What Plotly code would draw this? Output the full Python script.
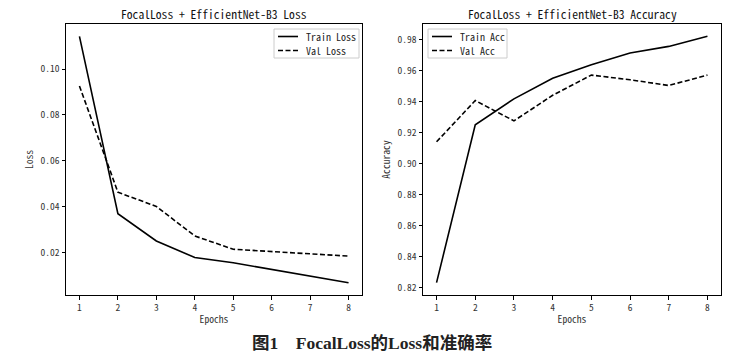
import plotly.graph_objects as go

epochs = [1, 2, 3, 4, 5, 6, 7, 8]
train_loss = [0.1143, 0.0368, 0.0249, 0.0177, 0.0154, 0.0126, 0.0096, 0.0067]
val_loss = [0.0926, 0.0462, 0.0400, 0.0271, 0.0213, 0.0203, 0.0193, 0.0183]
train_acc = [0.8232, 0.9250, 0.9417, 0.9550, 0.9637, 0.9712, 0.9755, 0.9820]
val_acc = [0.9140, 0.9406, 0.9275, 0.9440, 0.9570, 0.9540, 0.9503, 0.9570]

loss_ticks = [0.02, 0.04, 0.06, 0.08, 0.10]
acc_ticks = [0.82, 0.84, 0.86, 0.88, 0.90, 0.92, 0.94, 0.96, 0.98]

mono = "Noto Sans Mono CJK SC, DejaVu Sans Mono"
W, H = 741, 355
L, R, T, B = 66, 20, 24, 60
PW, PH = W - L - R, H - T - B

def px(x):
    return (x - L) / PW

def py(y):
    return 1 - (y - T) / PH

DASH = "5px,2.5px"

fig = go.Figure()
fig.add_trace(go.Scatter(x=epochs, y=train_loss, mode="lines", name="Train Loss",
                         line=dict(color="black", width=1.6), xaxis="x", yaxis="y", showlegend=False))
fig.add_trace(go.Scatter(x=epochs, y=val_loss, mode="lines", name="Val Loss",
                         line=dict(color="black", width=1.6, dash=DASH), xaxis="x", yaxis="y", showlegend=False))
fig.add_trace(go.Scatter(x=epochs, y=train_acc, mode="lines", name="Train Acc",
                         line=dict(color="black", width=1.6), xaxis="x2", yaxis="y2", showlegend=False))
fig.add_trace(go.Scatter(x=epochs, y=val_acc, mode="lines", name="Val Acc",
                         line=dict(color="black", width=1.6, dash=DASH), xaxis="x2", yaxis="y2", showlegend=False))

def pad(vals):
    lo, hi = min(vals), max(vals)
    m = (hi - lo) * 0.05
    return [lo - m, hi + m]

axis_common = dict(showline=True, linecolor="black", linewidth=1, mirror=True,
                   ticks="outside", ticklen=3.5, tickcolor="black", showgrid=False,
                   zeroline=False, automargin=False,
                   tickfont=dict(family=mono, size=9.5, color="#333"))
title_font = dict(family=mono, size=9.6, color="#333")

fig.update_layout(
    width=W, height=H, margin=dict(l=L, r=R, t=T, b=B),
    plot_bgcolor="white", paper_bgcolor="white", showlegend=False,
    xaxis=dict(domain=[0, px(362)], range=pad(epochs), tickvals=epochs, anchor="y",
               title=dict(text="Epochs", font=title_font, standoff=3), **axis_common),
    yaxis=dict(domain=[0, 1], range=pad(train_loss + val_loss), tickvals=loss_ticks,
               tickformat=".2f", anchor="x",
               title=dict(text="Loss", font=title_font, standoff=5), **axis_common),
    xaxis2=dict(domain=[px(423), 1], range=pad(epochs), tickvals=epochs, anchor="y2",
                title=dict(text="Epochs", font=title_font, standoff=3), **axis_common),
    yaxis2=dict(domain=[0, 1], range=pad(train_acc + val_acc), tickvals=acc_ticks,
                tickformat=".2f", anchor="x2",
                title=dict(text="Accuracy", font=title_font, standoff=5), **axis_common),
)

shapes = []
annotations = []

def legend_box(x0, x1, y0, y1, items):
    shapes.append(dict(type="rect", xref="paper", yref="paper",
                       x0=px(x0), x1=px(x1), y0=py(y1), y1=py(y0),
                       line=dict(color="#cccccc", width=1), fillcolor="white", layer="above"))
    for i, (label, dash) in enumerate(items):
        yy = y0 + 7.5 + i * 14
        shapes.append(dict(type="line", xref="paper", yref="paper",
                           x0=px(x0 + 4), x1=px(x0 + 24), y0=py(yy), y1=py(yy),
                           line=dict(color="black", width=1.6, dash=dash), layer="above"))
        annotations.append(dict(text=label, x=px(x0 + 30), y=py(yy), xref="paper", yref="paper",
                                xanchor="left", yanchor="middle", showarrow=False,
                                font=dict(family=mono, size=10, color="#222")))

legend_box(274, 359, 29, 58, [("Train Loss", "solid"), ("Val Loss", DASH)])
legend_box(428, 507, 29, 58, [("Train Acc", "solid"), ("Val Acc", DASH)])

annotations += [
    dict(text="FocalLoss + EfficientNet-B3 Loss", x=px(214), y=py(14), xref="paper", yref="paper",
         xanchor="center", yanchor="middle", showarrow=False, font=dict(family=mono, size=11.6, color="#111")),
    dict(text="FocalLoss + EfficientNet-B3 Accuracy", x=px(572), y=py(14), xref="paper", yref="paper",
         xanchor="center", yanchor="middle", showarrow=False, font=dict(family=mono, size=11.6, color="#111")),
    dict(text="<b>图1    FocalLoss的Loss和准确率</b>", x=px(372), y=py(343), xref="paper", yref="paper",
         xanchor="center", yanchor="middle", showarrow=False,
         font=dict(family="Liberation Serif, Noto Sans CJK SC", size=17.5, color="#222")),
]

fig.update_layout(shapes=shapes, annotations=annotations)
fig.write_html("out.html", config={"displayModeBar": False},
               post_script="document.body.style.margin='0';")
